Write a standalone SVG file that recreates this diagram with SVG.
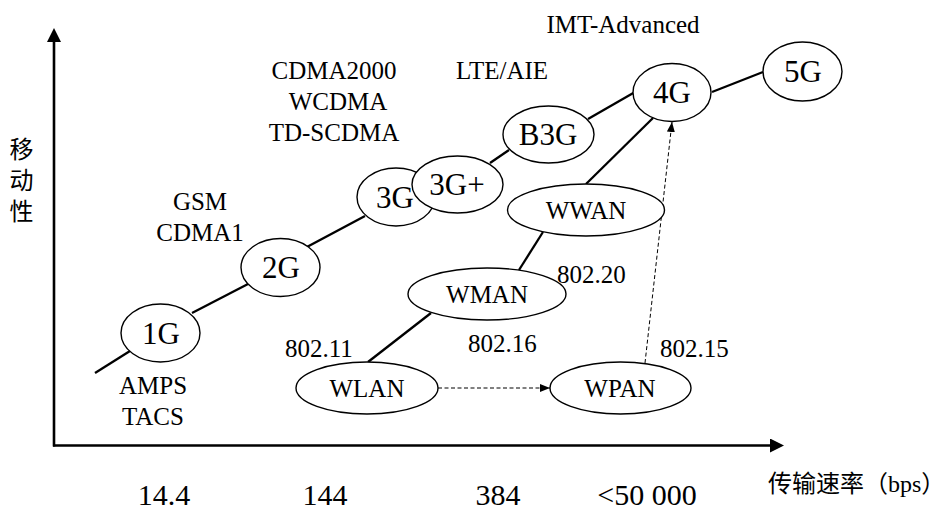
<svg xmlns="http://www.w3.org/2000/svg" width="945" height="510" viewBox="0 0 945 510">
  <style>
    .node ellipse { fill: #ffffff; stroke: #000000; stroke-width: 1.4; }
    .gen { font-family: 'Liberation Serif', 'DejaVu Serif', serif; font-size: 31px; fill: #000; text-anchor: middle; }
    .net { font-family: 'Liberation Serif', 'DejaVu Serif', serif; font-size: 25px; fill: #000; text-anchor: middle; }
    .lbl { font-family: 'Liberation Serif', 'DejaVu Serif', serif; font-size: 25px; fill: #000; }
    .mid { text-anchor: middle; }
    .num { font-family: 'Liberation Serif', 'DejaVu Serif', serif; font-size: 30px; fill: #000; text-anchor: middle; }
    .cjk { font-family: 'Liberation Serif', 'DejaVu Serif', 'Noto Sans CJK SC', serif; font-size: 24px; fill: #000; }
    .axis { stroke: #000; stroke-width: 2.6; fill: none; }
    .trend { stroke: #000; stroke-width: 2.3; fill: none; }
    .dash { stroke: #000; stroke-width: 1; fill: none; stroke-dasharray: 4 2.5; }
  </style>
  <defs>
    <marker id="axisHead" markerUnits="userSpaceOnUse" markerWidth="14" markerHeight="14" refX="4" refY="7" orient="auto">
      <path d="M0,0 L14,7 L0,14 z" fill="#000"/>
    </marker>
    <marker id="smallHead" markerUnits="userSpaceOnUse" markerWidth="10" markerHeight="8" refX="10" refY="4" orient="auto">
      <path d="M0,0 L10,4 L0,8 z" fill="#000"/>
    </marker>
  </defs>

  <!-- axes -->
  <g id="axes">
    <line class="axis" x1="54" y1="446.5" x2="54" y2="38" marker-end="url(#axisHead)"/>
    <line class="axis" x1="53" y1="445.5" x2="774" y2="445.5" marker-end="url(#axisHead)"/>
  </g>

  <!-- connectors -->
  <g id="connectors">
    <!-- cellular generations -->
    <line class="trend" x1="95" y1="373" x2="130" y2="351"/>
    <line class="trend" x1="192" y1="313" x2="248" y2="284"/>
    <line class="trend" x1="305" y1="248" x2="365" y2="216"/>
    <line class="trend" x1="490" y1="163" x2="509" y2="150"/>
    <line class="trend" x1="588" y1="119" x2="635" y2="92"/>
    <line class="trend" x1="712" y1="92" x2="763" y2="72"/>
    <!-- wireless networks -->
    <line class="trend" x1="368" y1="362" x2="431" y2="313"/>
    <line class="trend" x1="519" y1="270" x2="543" y2="232"/>
    <line class="trend" x1="586" y1="184" x2="653" y2="118"/>
    <!-- dashed links -->
    <line class="dash" x1="438" y1="388" x2="550" y2="388" marker-end="url(#smallHead)"/>
    <line class="dash" x1="645" y1="363" x2="672" y2="122" marker-end="url(#smallHead)"/>
  </g>

  <!-- nodes -->
  <g id="n1G" class="node"><ellipse cx="160.5" cy="333" rx="39.5" ry="29"/><text class="gen" x="161" y="343.5">1G</text></g>
  <g id="n2G" class="node"><ellipse cx="280.5" cy="267.5" rx="39.5" ry="29"/><text class="gen" x="281" y="278">2G</text></g>
  <g id="n3G" class="node"><ellipse cx="396" cy="197" rx="39" ry="29"/><text class="gen" x="395" y="207.5">3G</text></g>
  <g id="n3Gplus" class="node"><ellipse cx="457.5" cy="184.5" rx="45.5" ry="28.5"/><text class="gen" x="457" y="195">3G+</text></g>
  <g id="nB3G" class="node"><ellipse cx="548.5" cy="134.5" rx="45.5" ry="28.5"/><text class="gen" x="548" y="145">B3G</text></g>
  <g id="n4G" class="node"><ellipse cx="672" cy="92.5" rx="39" ry="29"/><text class="gen" x="672" y="103">4G</text></g>
  <g id="n5G" class="node"><ellipse cx="802.5" cy="71.5" rx="39.5" ry="29.5"/><text class="gen" x="803" y="82">5G</text></g>
  <g id="nWWAN" class="node"><ellipse cx="586" cy="210" rx="78.5" ry="26"/><text class="net" x="586" y="218.5">WWAN</text></g>
  <g id="nWMAN" class="node"><ellipse cx="487" cy="294" rx="79" ry="26"/><text class="net" x="487" y="302.5">WMAN</text></g>
  <g id="nWLAN" class="node"><ellipse cx="367" cy="388" rx="71" ry="26"/><text class="net" x="367" y="396.5">WLAN</text></g>
  <g id="nWPAN" class="node"><ellipse cx="620.5" cy="388" rx="70.5" ry="26"/><text class="net" x="620" y="396.5">WPAN</text></g>

  <!-- technology labels -->
  <g id="labels">
    <text class="lbl mid" x="153" y="394">AMPS</text>
    <text class="lbl mid" x="153" y="425">TACS</text>
    <text class="lbl mid" x="200" y="210">GSM</text>
    <text class="lbl mid" x="200" y="241">CDMA1</text>
    <text class="lbl mid" x="334" y="79">CDMA2000</text>
    <text class="lbl mid" x="338" y="110">WCDMA</text>
    <text class="lbl mid" x="334" y="141">TD-SCDMA</text>
    <text class="lbl mid" x="502" y="79">LTE/AIE</text>
    <text class="lbl mid" x="623" y="33">IMT-Advanced</text>
    <text class="lbl" x="285" y="357">802.11</text>
    <text class="lbl" x="468" y="352">802.16</text>
    <text class="lbl" x="557" y="283">802.20</text>
    <text class="lbl" x="660" y="357">802.15</text>
  </g>

  <!-- axis titles and scale -->
  <g id="axisText">
    <text class="cjk" x="21.5" y="158" text-anchor="middle">移</text>
    <text class="cjk" x="21.5" y="189" text-anchor="middle">动</text>
    <text class="cjk" x="21.5" y="220" text-anchor="middle">性</text>
    <text class="cjk" x="768" y="492">传输速率（bps）</text>
    <text class="num" x="164" y="505">14.4</text>
    <text class="num" x="325" y="505">144</text>
    <text class="num" x="498" y="505">384</text>
    <text class="num" x="647" y="505">&lt;50 000</text>
  </g>
</svg>
